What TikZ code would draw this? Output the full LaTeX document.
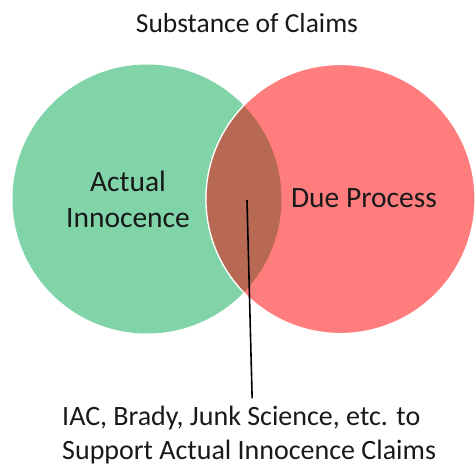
\documentclass[tikz,border=0pt]{standalone}
\usepackage{fontspec}
\setmainfont{Carlito}
\usepackage{xcolor}
\usetikzlibrary{positioning}

\definecolor{innocencegreen}{RGB}{128,212,168}
\definecolor{processred}{RGB}{255,125,125}
\definecolor{overlapbrown}{RGB}{184,105,84}

\tikzset{
    setcircle/.style={circle, minimum size=269pt, inner sep=0pt},
    setlabel/.style={font=\fontsize{29.5}{36}\selectfont, align=center, text=black!90},
    caption/.style={font=\fontsize{28}{34}\selectfont, align=left, inner sep=0pt, text=black!90}
}

\begin{document}
\begin{tikzpicture}[x=1pt, y=-1pt]
                \useasboundingbox (0,0) rectangle (475,466);

                % the two sets
                \node[setcircle, fill=innocencegreen] (innocence) at (147,199) {};
                \node[setcircle, fill=processred, draw=white, line width=1.2pt] (process) at (340.5,199) {};

                % overlap
                \begin{scope}
                    \clip (147,199) circle (134.5pt);
                    \fill[
                        overlapbrown,
                        draw=white,
                        line width=1.2pt
                    ] (340.5,199) circle (134.5pt);
                \end{scope}

                \node[font=\fontsize{27.5}{32}\selectfont, text=black!90, anchor=base] (title) at (247,32) {Substance of Claims};

                \node[setlabel] (innocencelabel) at (128,199) {Actual\\Innocence};
                \node[setlabel, anchor=base] (processlabel) at (364,207) {Due Process};

                \coordinate (overlapmark) at (247,200);
                \node[caption, anchor=base west] (support) at (62,459) {IAC, Brady, Junk Science, etc. to\\Support Actual Innocence Claims};

                \draw[
                    line width=1.6pt
                ] (overlapmark) -- ([xshift=3pt, yshift=7pt]support.north);

\end{tikzpicture}
\end{document}
